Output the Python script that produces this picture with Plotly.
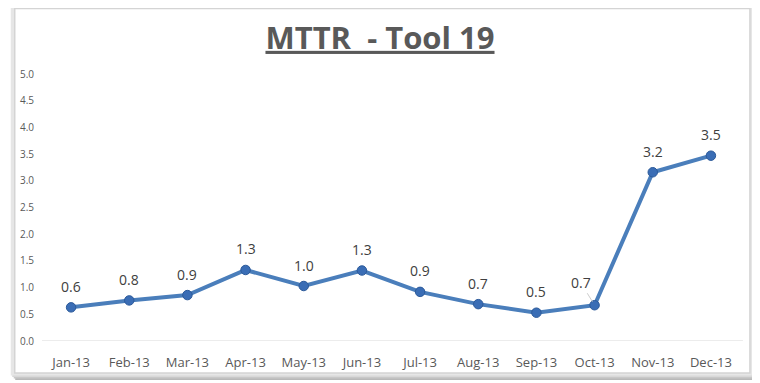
import plotly.graph_objects as go

months = ["Jan-13", "Feb-13", "Mar-13", "Apr-13", "May-13", "Jun-13",
          "Jul-13", "Aug-13", "Sep-13", "Oct-13", "Nov-13", "Dec-13"]
mttr = [0.63, 0.76, 0.86, 1.33, 1.03, 1.32, 0.92, 0.69, 0.53, 0.67, 3.16, 3.47]
y_ticks = [0.0, 0.5, 1.0, 1.5, 2.0, 2.5, 3.0, 3.5, 4.0, 4.5, 5.0]
title_text = "MTTR  - Tool 19"

# page has an 8px body margin; figure coords = page coords - 8
OFF = 8
W, H = 760 - OFF, 383 - OFF
L, R, T, B = 36 - OFF, W - (740 - OFF), 74 - OFF, H - (341 - OFF)
pw, ph = W - L - R, H - T - B

def px(x):  # page x -> paper
    return (x - OFF - L) / pw

def py(y):  # page y -> paper
    return (H - B - (y - OFF)) / ph

labels = [f"{v:.1f}" for v in mttr]
lab_font = dict(family="Open Sans, Lato, sans-serif", size=14, color="#404040")

fig = go.Figure()
fig.add_trace(go.Scatter(
    x=months, y=mttr, mode="lines+markers",
    line=dict(color="#4A7EBB", width=4),
    marker=dict(size=9.5, color="#3A6DB5", line=dict(color="#2C5A9A", width=1)),
    hoverinfo="x+y", showlegend=False, cliponaxis=False,
))

for m, v, t in zip(months, mttr, labels):
    if m == "Oct-13":
        fig.add_annotation(x=m, y=v, text=t, showarrow=True, arrowhead=0,
                           arrowwidth=0.8, arrowcolor="#BFBFBF",
                           ax=-14, ay=-23, standoff=4, font=lab_font)
    else:
        fig.add_annotation(x=m, y=v, text=t, showarrow=False, yshift=21,
                           font=lab_font)

shapes = []
# shadow
for i, c in enumerate(["#B8B8B8", "#C8C8C8", "#D8D8D8", "#E6E6E6"]):
    o = 7 - i * 1.5
    shapes.append(dict(type="rect", xref="paper", yref="paper", layer="below",
                       x0=px(2 + o), x1=px(750 + o), y0=py(373 + o), y1=py(2 + o * 0.3),
                       line=dict(width=0), fillcolor=c))
shapes.append(dict(type="rect", xref="paper", yref="paper", layer="below",
                   x0=px(8.5), x1=px(750), y0=py(373), y1=py(8.5),
                   line=dict(width=1.5, color="#D4D4D4"), fillcolor="white"))
# baseline at 0
shapes.append(dict(type="line", xref="paper", yref="y", layer="below",
                   x0=0, x1=px(743), y0=0, y1=0,
                   line=dict(color="#D9D9D9", width=1)))
fig.update_layout(shapes=shapes)

fig.update_layout(
    width=W, height=H,
    margin=dict(l=L, r=R, t=T, b=B),
    paper_bgcolor="white", plot_bgcolor="rgba(0,0,0,0)",
    title=dict(text=f"<b><u>{title_text}</u></b>", x=(380 - OFF) / W, xanchor="center",
               y=1 - (38 - OFF) / H, yanchor="middle", yref="container",
               font=dict(family="Open Sans, sans-serif", size=31, color="#595959")),
    font=dict(family="Open Sans, Lato, sans-serif"),
)
fig.update_xaxes(showgrid=False, showline=False, zeroline=False, ticks="",
                 range=[-0.5, len(months) - 0.5],
                 tickfont=dict(size=13, color="#595959"), ticklabelstandoff=12)
fig.update_yaxes(range=[0, 5], tickvals=y_ticks, ticktext=[f"{v:.1f}" for v in y_ticks],
                 showgrid=False, zeroline=False, showline=False, ticks="",
                 tickfont=dict(size=10, color="#595959"), ticklabelstandoff=7)

fig.write_html("out.html")
